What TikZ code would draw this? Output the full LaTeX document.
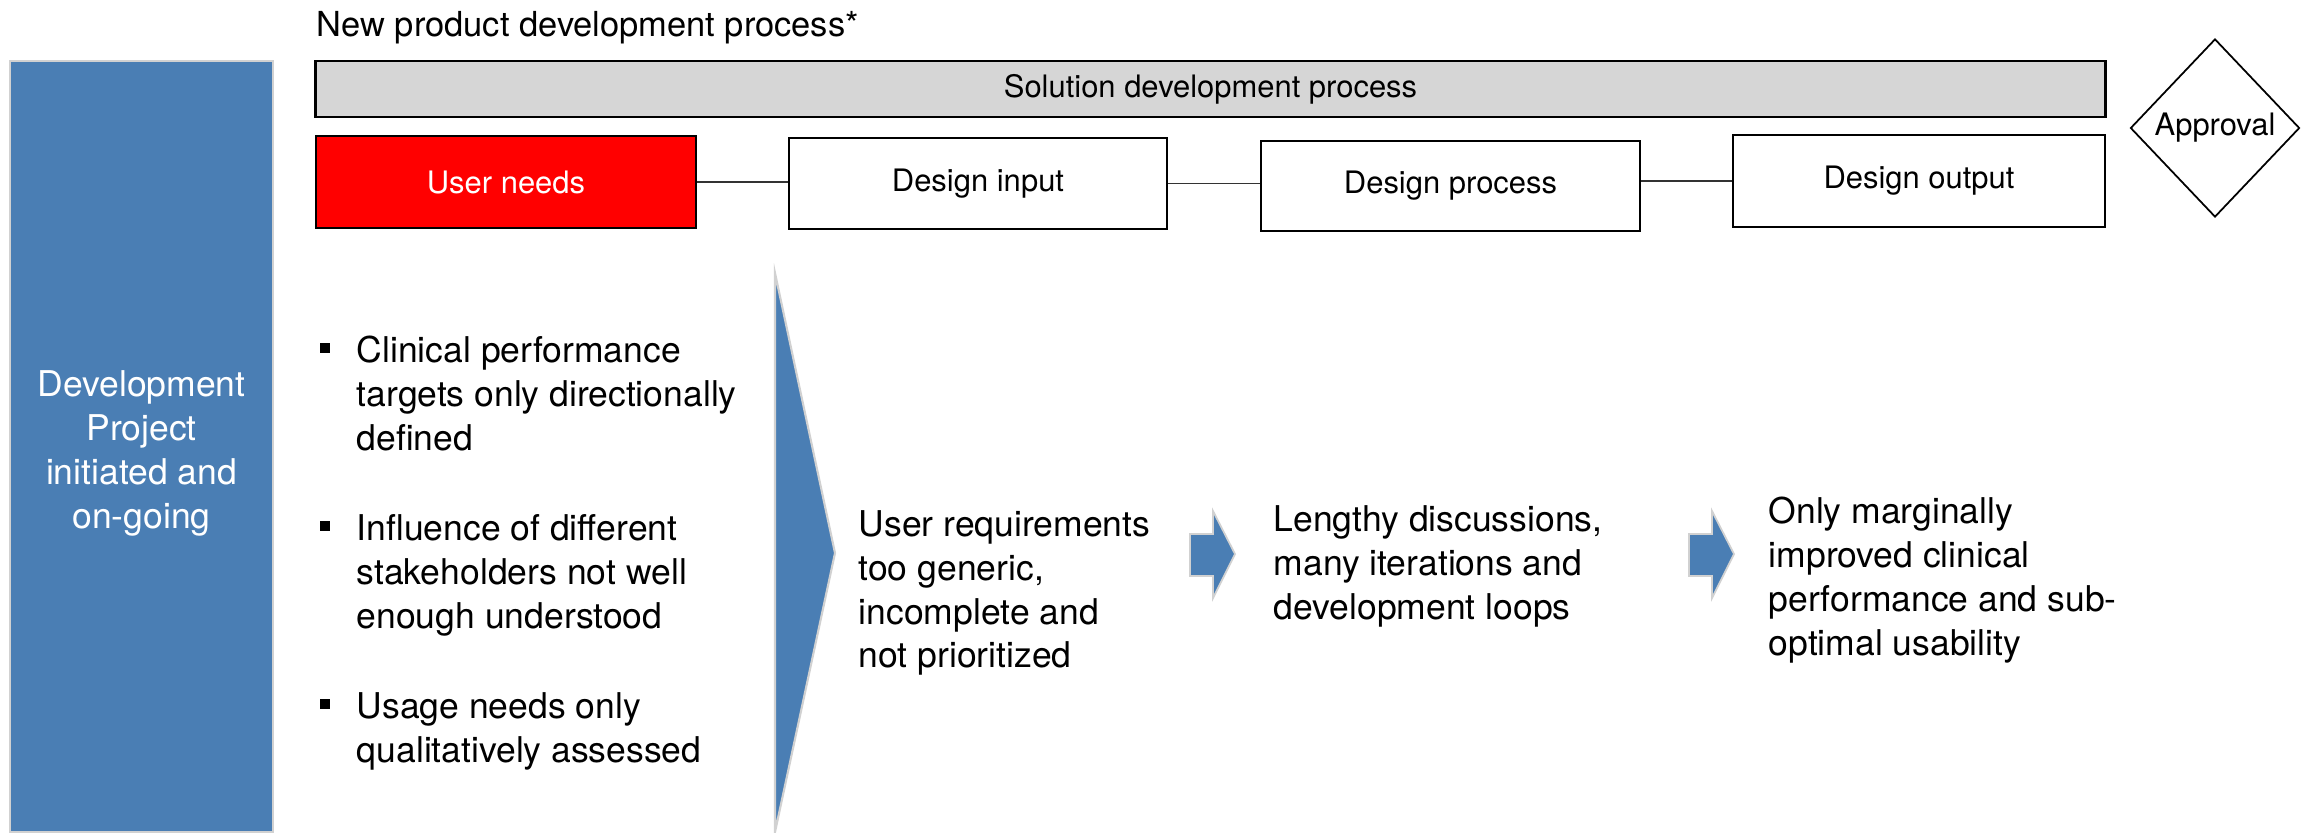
\documentclass[tikz,border=0pt]{standalone}
\usepackage{fontspec}
\setmainfont{TeX Gyre Heros}
\usetikzlibrary{shapes.geometric}
\definecolor{pblue}{HTML}{4A7EB4}
\definecolor{pgray}{HTML}{D6D6D6}
\definecolor{pred}{HTML}{FF0000}
\begin{document}
\begin{tikzpicture}[x=0.01cm,y=-0.01cm,
  body/.style={font=\fontsize{10.1}{12.5}\selectfont, inner sep=0pt, align=left, anchor=north west},
  box/.style={draw=black, line width=0.6pt, inner sep=0pt, font=\fontsize{8.8}{10.5}\selectfont},
  conn/.style={draw=black!80, line width=0.5pt},
  bul/.style={fill=black, minimum size=0.1cm, inner sep=0pt},
  blueshape/.style={fill=pblue, draw=black!18, line width=0.6pt}
  ]
\useasboundingbox (0,0) rectangle (2303,832);
% title
\node[body, font=\fontsize{9.8}{12}\selectfont] (title) at (316,11) {New product development process*};
% top row
\node[box, fill=pgray, minimum width=17.89cm, minimum height=0.56cm] (sdp) at (1210.5,89) {Solution development process};
\node[box, fill=pred, text=white, minimum width=3.8cm, minimum height=0.92cm] (un) at (506,182) {User needs};
\node[box, fill=white, minimum width=3.78cm, minimum height=0.91cm] (di) at (978,183.5) {Design input};
\node[box, fill=white, minimum width=3.79cm, minimum height=0.90cm] (dp) at (1450.5,186) {Design process};
\node[box, fill=white, minimum width=3.72cm, minimum height=0.92cm] (dout) at (1919,181) {Design output};
\node[box, diamond, line width=0.5pt, minimum width=1.69cm, minimum height=1.78cm] (appr) at (2215,128) {Approval};
\draw[conn] (un.east) -- (un.east -| di.west);
\draw[conn] (di.east) -- (di.east -| dp.west);
\draw[conn] (dout.west -| dp.east) -- (dout.west);
% left blue bar
\node[blueshape, minimum width=2.63cm, minimum height=7.71cm, inner sep=0pt] (proj) at (141.5,446.5) {};
\node[body, anchor=center, align=center, text=white] (projtxt) at (141.5,453) {Development\\Project\\initiated and\\on-going};
% bullets
\node[bul] (b1) at (325,347.5) {};
\node[body] (t1) at (356,335.5) {Clinical performance\\targets only directionally\\defined};
\node[bul] (b2) at (325,525.5) {};
\node[body] (t2) at (356,513.5) {Influence of different\\stakeholders not well\\enough understood};
\node[bul] (b3) at (325,703.5) {};
\node[body] (t3) at (356,691.5) {Usage needs only\\qualitatively assessed};
% chevron
\filldraw[blueshape] (775,273) -- (835,553) -- (775,832) -- cycle;
% consequences
\node[body] (ta) at (858,509.5) {User requirements\\too generic,\\incomplete and\\not prioritized};
\node[body] (tb) at (1273,504.5) {Lengthy discussions,\\many iterations and\\development loops};
\node[body] (tc) at (1768,496.5) {Only marginally\\improved clinical\\performance and sub-\\optimal usability};
% block arrows
\filldraw[blueshape, line width=0.5pt] (1190,534) -- (1213,534) -- (1213,511) -- (1235,554) -- (1213,598) -- (1213,576) -- (1190,576) -- cycle;
\filldraw[blueshape, line width=0.5pt] (1689,534) -- (1712,534) -- (1712,511) -- (1734,554) -- (1712,598) -- (1712,576) -- (1689,576) -- cycle;
\end{tikzpicture}
\end{document}
